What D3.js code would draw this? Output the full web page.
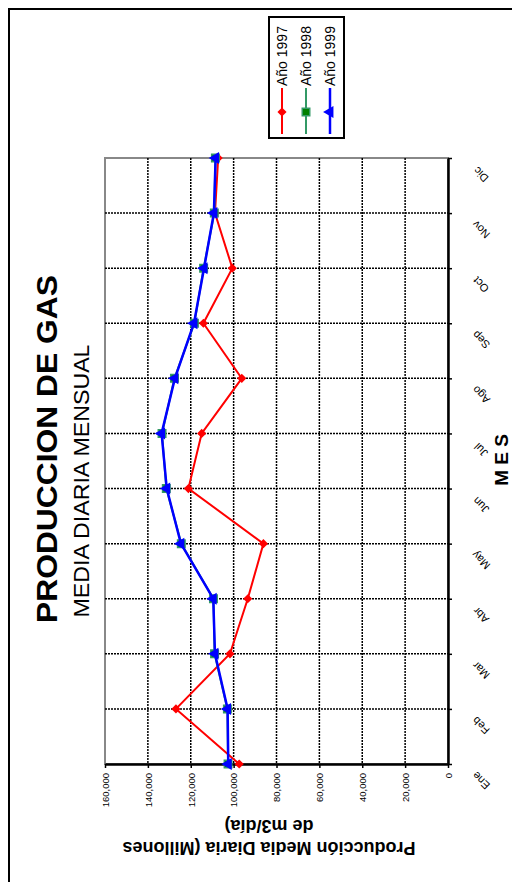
<!DOCTYPE html>
<html>
<head>
<meta charset="utf-8">
<script src="https://cdn.jsdelivr.net/npm/d3@7"></script>
<style>
  body { margin: 0; background: #fff; }
  svg { display: block; font-family: Arial, "Liberation Sans", sans-serif; }
</style>
</head>
<body>
<script>
// chart data (page is printed sideways: months run bottom -> top)
var months = ["Ene", "Feb", "Mar", "Abr", "May", "Jun", "Jul", "Ago", "Sep", "Oct", "Nov", "Dic"];
var prod1997 = [97400, 126900, 101700, 93400, 86100, 121100, 114900, 96200, 114100, 100600, 108700, 107200];
var prod1998 = [102600, 102900, 108900, 109400, 124400, 131400, 133400, 127600, 118300, 114000, 109000, 108500];
var prod1999 = [102500, 102800, 108700, 109500, 124600, 131200, 133600, 127400, 118500, 113800, 109200, 108400];
var valueTicks = [0, 20000, 40000, 60000, 80000, 100000, 120000, 140000, 160000];
var seriesNames = ["Año 1997", "Año 1998", "Año 1999"];

var width = 512, height = 882;
// plot box (note: "top" is reserved on window, so use other names)
var plotLeft = 105, plotRight = 448, plotTop = 158, plotBottom = 764;

var svg = d3.select("body").append("svg")
    .attr("width", width)
    .attr("height", height);

// outer frame (runs off the page on right / bottom)
svg.append("rect")
    .attr("x", 9).attr("y", 9)
    .attr("width", 600).attr("height", 900)
    .attr("fill", "none").attr("stroke", "#000").attr("stroke-width", 2);

var x = d3.scaleLinear().domain([0, 160000]).range([plotRight, plotLeft]);
var y = d3.scalePoint().domain(months).range([plotBottom, plotTop]);

// plot border
svg.append("rect")
    .attr("x", plotLeft).attr("y", plotTop)
    .attr("width", plotRight - plotLeft).attr("height", plotBottom - plotTop)
    .attr("fill", "none").attr("stroke", "#888").attr("stroke-width", 2);

// grid
svg.append("g").selectAll("line")
    .data(valueTicks.filter(function(v) { return v > 0 && v < 160000; }))
    .enter().append("line")
    .attr("x1", function(d) { return x(d); }).attr("x2", function(d) { return x(d); })
    .attr("y1", plotTop).attr("y2", plotBottom)
    .attr("stroke", "#000").attr("stroke-width", 1.5).attr("stroke-dasharray", "2,1");

svg.append("g").selectAll("line")
    .data(months.slice(1, 11))
    .enter().append("line")
    .attr("y1", function(d) { return y(d); }).attr("y2", function(d) { return y(d); })
    .attr("x1", plotLeft).attr("x2", plotRight)
    .attr("stroke", "#000").attr("stroke-width", 1.5).attr("stroke-dasharray", "2,1");

// value axis (bottom)
var xAx = svg.append("g")
    .attr("transform", "translate(0," + plotBottom + ")")
    .call(d3.axisBottom(x).tickValues(valueTicks).tickFormat(d3.format(",")).tickSize(4).tickSizeOuter(0));
xAx.select(".domain").attr("stroke-width", 2.5);
xAx.selectAll(".tick line").attr("stroke-width", 1.5);
xAx.selectAll(".tick text")
    .attr("x", 0).attr("y", 0).attr("dy", "0.35em")
    .attr("text-anchor", "end")
    .attr("transform", "translate(0,9) rotate(-90)")
    .attr("font-size", "9.5px")
    .attr("font-family", null);

// month axis (right)
var yAx = svg.append("g")
    .attr("transform", "translate(" + plotRight + ",0)")
    .call(d3.axisRight(y).tickSize(4).tickSizeOuter(0));
yAx.select(".domain").attr("stroke-width", 2.5);
yAx.selectAll(".tick line").attr("stroke-width", 1.5);
yAx.selectAll(".tick text")
    .attr("x", 0).attr("y", 0).attr("dy", "0.35em")
    .attr("text-anchor", "middle")
    .attr("transform", "translate(33,16) rotate(-135)")
    .attr("font-size", "11px")
    .attr("font-family", null);

// series
var series = [
    { name: seriesNames[0], values: prod1997, color: "#ff0000", width: 2, marker: "diamond" },
    { name: seriesNames[1], values: prod1998, color: "#339966", width: 2, marker: "square" },
    { name: seriesNames[2], values: prod1999, color: "#0000ff", width: 2.5, marker: "triangle" }
];

var line = d3.line()
    .x(function(d) { return x(d.v); })
    .y(function(d) { return y(d.m); });

function drawMarker(g, s) {
    if (s.marker === "diamond") {
        g.append("path").attr("d", d3.symbol(d3.symbolSquare, 42)())
            .attr("transform", "rotate(45)")
            .attr("fill", s.color);
    } else if (s.marker === "square") {
        g.append("path").attr("d", d3.symbol(d3.symbolSquare, 56)())
            .attr("fill", "#008000").attr("stroke", s.color).attr("stroke-width", 1.5);
    } else {
        g.append("path").attr("d", d3.symbol(d3.symbolTriangle, 62)())
            .attr("transform", "rotate(-90)")
            .attr("fill", s.color);
    }
}

series.forEach(function(s) {
    var pts = s.values.map(function(v, i) { return { v: v, m: months[i] }; });
    svg.append("path")
        .datum(pts)
        .attr("d", line)
        .attr("fill", "none")
        .attr("stroke", s.color)
        .attr("stroke-width", s.width);
    svg.append("g").selectAll("g")
        .data(pts)
        .enter().append("g")
        .attr("transform", function(d) { return "translate(" + x(d.v) + "," + y(d.m) + ")"; })
        .each(function() { drawMarker(d3.select(this), s); });
});

// legend
var legend = svg.append("g");
legend.append("rect")
    .attr("x", 269).attr("y", 17).attr("width", 75).attr("height", 121)
    .attr("fill", "#fff").attr("stroke", "#000").attr("stroke-width", 2);

series.forEach(function(s, i) {
    var lx = 282 + i * 24;
    legend.append("line")
        .attr("x1", lx).attr("x2", lx).attr("y1", 88).attr("y2", 134)
        .attr("stroke", s.color).attr("stroke-width", s.width);
    var mg = legend.append("g").attr("transform", "translate(" + lx + ",112)");
    drawMarker(mg, s);
    legend.append("text")
        .attr("transform", "translate(" + lx + ",86) rotate(-90)")
        .attr("dy", "0.35em")
        .attr("font-size", "14px")
        .text(s.name);
});

// titles
svg.append("text")
    .attr("transform", "translate(57,449) rotate(-90)")
    .attr("text-anchor", "middle")
    .attr("font-size", "30px").attr("font-weight", "bold")
    .attr("textLength", 348).attr("lengthAdjust", "spacingAndGlyphs")
    .text("PRODUCCION DE GAS");

svg.append("text")
    .attr("transform", "translate(89,481) rotate(-90)")
    .attr("text-anchor", "middle")
    .attr("font-size", "22px")
    .attr("textLength", 273).attr("lengthAdjust", "spacingAndGlyphs")
    .text("MEDIA DIARIA MENSUAL");

svg.append("text")
    .attr("transform", "translate(508,460) rotate(-90)")
    .attr("text-anchor", "middle")
    .attr("font-size", "19px").attr("font-weight", "bold")
    .text("M E S");

svg.append("text")
    .attr("transform", "translate(269,842) rotate(180)")
    .attr("text-anchor", "middle")
    .attr("font-size", "18px").attr("font-weight", "bold")
    .text("Producción Media Diaria (Millones");

svg.append("text")
    .attr("transform", "translate(269,820) rotate(180)")
    .attr("text-anchor", "middle")
    .attr("font-size", "18px").attr("font-weight", "bold")
    .text("de m3/día)");
</script>
</body>
</html>
